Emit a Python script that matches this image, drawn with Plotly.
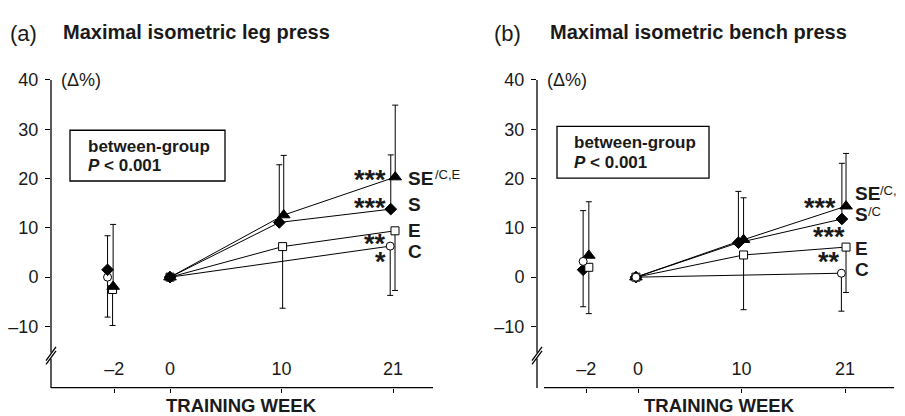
import plotly.graph_objects as go

# ---------------- data ----------------
weeks = [-2, 0, 10, 21]
week_labels = ["–2", "0", "10", "21"]
y_ticks = [-10, 0, 10, 20, 30, 40]
y_tick_labels = ["–10", "0", "10", "20", "30", "40"]
groups = ["S", "SE", "E", "C"]

# (a) maximal isometric leg press, change in % (mean) and SD
leg_S_mean = [1.5, 0.0, 11.1, 13.8]
leg_S_sd = [6.9, 0.0, 11.7, 11.0]
leg_SE_mean = [-1.9, 0.0, 12.6, 20.3]
leg_SE_sd = [12.6, 0.0, 12.1, 14.6]
leg_E_mean = [-2.5, 0.0, 6.2, 9.4]
leg_E_sd = [7.3, 0.0, 12.5, 12.1]
leg_C_mean = [0.0, 0.0, None, 6.3]
leg_C_sd = [8.1, 0.0, None, 10.0]

# (b) maximal isometric bench press
bench_S_mean = [1.5, 0.0, 7.0, 11.8]
bench_S_sd = [12.0, 0.0, 10.4, 11.3]
bench_SE_mean = [4.4, 0.0, 7.6, 14.4]
bench_SE_sd = [10.9, 0.0, 8.5, 10.7]
bench_E_mean = [2.0, 0.0, 4.5, 6.1]
bench_E_sd = [9.4, 0.0, 11.1, 9.2]
bench_C_mean = [3.2, 0.0, None, 0.8]
bench_C_sd = [9.2, 0.0, None, 7.7]

# group labels and significance marks at week 21
leg_labels = {"SE": ("SE", "/C,E"), "S": ("S", ""), "E": ("E", ""), "C": ("C", "")}
leg_stars = {"SE": "***", "S": "***", "E": "**", "C": "*"}
bench_labels = {"SE": ("SE", "/C,E"), "S": ("S", "/C"), "E": ("E", ""), "C": ("C", "")}
bench_stars = {"SE": "***", "S": "***", "E": "**"}

# ---------------- layout helpers (styles / positions) ----------------
PAGE_MARGIN = 8          # default body margin of the html page
W, H = 905, 416
FONT = "Arial, Liberation Sans, Helvetica, sans-serif"
def px(x):
    return (x - PAGE_MARGIN) / W
def py(y):
    return 1 - (y - PAGE_MARGIN) / H

# x position slot of each week on the (non-linear) time axis
slot = {-2: -0.5, 0: 0.0, 10: 1.0, 21: 2.0}

styles = {
    "S": dict(symbol="diamond", size=9, color="black", line=dict(color="black", width=1)),
    "SE": dict(symbol="triangle-up", size=11, color="black", line=dict(color="black", width=1)),
    "E": dict(symbol="square", size=8, color="white", line=dict(color="black", width=1)),
    "C": dict(symbol="circle", size=8, color="white", line=dict(color="black", width=1)),
}
err_dir = {"S": "up", "SE": "up", "E": "down", "C": "down"}

panels = [
    dict(
        name="a", title="Maximal isometric leg press",
        data={"S": (leg_S_mean, leg_S_sd), "SE": (leg_SE_mean, leg_SE_sd),
              "E": (leg_E_mean, leg_E_sd), "C": (leg_C_mean, leg_C_sd)},
        order=["E", "C", "S", "SE"],
        offsets={"S": [-0.06, 0, -0.02, -0.02], "C": [-0.06, 0, -0.02, -0.025],
                 "SE": [-0.01, 0, 0.02, 0.02], "E": [-0.015, 0, 0.01, 0.018]},
        axx=51, xend=433, xstart_line=51, x0=170, unit=111.5,
        labels=leg_labels, stars=leg_stars,
        label_y={"SE": 172, "S": 199.5, "E": 226, "C": 247}, label_x=406,
        sup_x={"SE": 433}, sup_y={"SE": 168},
        star_pos={"SE": (388, 168), "S": (388, 197), "E": (388, 234), "C": (388, 252)},
        box=(70, 123, 225, 175), box_text=(86, 140, 159),
        tag_x=8, title_x=61, delta_x=59, xlabel_x=242,
    ),
    dict(
        name="b", title="Maximal isometric bench press",
        data={"S": (bench_S_mean, bench_S_sd), "SE": (bench_SE_mean, bench_SE_sd),
              "E": (bench_E_mean, bench_E_sd), "C": (bench_C_mean, bench_C_sd)},
        order=["S", "SE", "E", "C"],
        offsets={"S": [-0.03, -0.02, -0.03, -0.03], "C": [-0.03, -0.02, -0.03, -0.035],
                 "SE": [0.025, -0.02, 0.02, 0.01], "E": [0.025, -0.02, 0.02, 0.01]},
        axx=537, xend=894, xstart_line=544, x0=638, unit=103.5,
        labels=bench_labels, stars=bench_stars,
        label_y={"SE": 188, "S": 209, "E": 244, "C": 266}, label_x=853,
        sup_x={"SE": 878, "S": 866}, sup_y={"SE": 185, "S": 206},
        star_pos={"SE": (838, 197), "S": (847, 226), "E": (842, 252)},
        box=(557, 119, 709, 172), box_text=(572, 136, 156),
        tag_x=492, title_x=548, delta_x=545, xlabel_x=719,
    ),
]

Y_TOP_PX, Y_BOT_PX = 71.5, 386.7
Y_RANGE = [-22.4, 40]

fig = go.Figure()
shapes, annotations = [], []

for i, p in enumerate(panels):
    xa = "x" if i == 0 else "x2"
    ya = "y" if i == 0 else "y2"
    # lines first (weeks >= 0), then markers with one-sided SD bars
    for g in p["order"]:
        mean, sd = p["data"][g]
        off = p["offsets"][g]
        lx = [slot[w] + off[k] for k, w in enumerate(weeks) if w >= 0 and mean[k] is not None]
        ly = [mean[k] for k, w in enumerate(weeks) if w >= 0 and mean[k] is not None]
        fig.add_trace(go.Scatter(x=lx, y=ly, mode="lines", xaxis=xa, yaxis=ya,
                                 line=dict(color="black", width=1), showlegend=False,
                                 hoverinfo="skip"))
    for g in p["order"]:
        mean, sd = p["data"][g]
        off = p["offsets"][g]
        idx = [k for k in range(len(weeks)) if mean[k] is not None]
        mx = [slot[weeks[k]] + off[k] for k in idx]
        my = [mean[k] for k in idx]
        ms = [sd[k] for k in idx]
        zeros = [0] * len(ms)
        up = ms if err_dir[g] == "up" else zeros
        down = ms if err_dir[g] == "down" else zeros
        fig.add_trace(go.Scatter(
            x=mx, y=my, mode="markers", xaxis=xa, yaxis=ya, name=g, showlegend=False,
            marker=styles[g],
            error_y=dict(type="data", symmetric=False, array=up, arrayminus=down,
                         color="black", thickness=1, width=3, visible=True),
        ))

    # axes
    xr = [(p["axx"] - p["x0"]) / p["unit"], (p["xend"] - p["x0"]) / p["unit"]]
    xdom = [px(p["axx"]), px(p["xend"])]
    ydom = [py(Y_BOT_PX), py(Y_TOP_PX)]
    xkey = "xaxis" if i == 0 else "xaxis2"
    ykey = "yaxis" if i == 0 else "yaxis2"
    fig.update_layout(**{
        xkey: dict(domain=xdom, range=xr, anchor=ya, showgrid=False, zeroline=False,
                   showline=False, tickmode="array",
                   tickvals=[slot[w] for w in weeks], ticktext=week_labels,
                   ticks="outside", ticklen=4, tickcolor="black",
                   ticklabelposition="inside", ticklabelstandoff=6,
                   tickfont=dict(family=FONT, size=18, color="#1a1a1a")),
        ykey: dict(domain=ydom, range=Y_RANGE, anchor=xa, showgrid=False, zeroline=False,
                   showline=False, tickmode="array", tickvals=y_ticks, ticktext=y_tick_labels,
                   ticks="outside", ticklen=5, tickcolor="black", ticklabelstandoff=3,
                   tickfont=dict(family=FONT, size=18, color="#1a1a1a")),
    })

    X = p["axx"]
    lw = 1.3
    # y axis with break
    shapes += [
        dict(type="line", xref="paper", yref="paper", x0=px(X), x1=px(X), y0=py(Y_TOP_PX), y1=py(351),
             line=dict(color="black", width=lw)),
        dict(type="line", xref="paper", yref="paper", x0=px(X), x1=px(X), y0=py(357), y1=py(387),
             line=dict(color="black", width=lw)),
        dict(type="line", xref="paper", yref="paper", x0=px(X - 5), x1=px(X + 5), y0=py(359), y1=py(345),
             line=dict(color="black", width=lw)),
        dict(type="line", xref="paper", yref="paper", x0=px(X - 5), x1=px(X + 5), y0=py(363), y1=py(349),
             line=dict(color="black", width=lw)),
        # x axis line
        dict(type="line", xref="paper", yref="paper", x0=px(p["xstart_line"]), x1=px(p["xend"]),
             y0=py(Y_BOT_PX), y1=py(Y_BOT_PX), line=dict(color="black", width=lw)),
        # between-group box
        dict(type="rect", xref="paper", yref="paper", x0=px(p["box"][0]), x1=px(p["box"][2]),
             y0=py(p["box"][3]), y1=py(p["box"][1]), line=dict(color="black", width=lw),
             fillcolor="rgba(0,0,0,0)"),
    ]

    def ann(text, x, y, size, xanchor="left", bold=False):
        annotations.append(dict(
            text=f"<b>{text}</b>" if bold else text, x=px(x), y=py(y), xref="paper", yref="paper",
            xanchor=xanchor, yanchor="middle", showarrow=False,
            font=dict(family=FONT, size=size, color="#1a1a1a")))

    ann(f"({p['name']})", p["tag_x"], 24, 22)
    ann(p["title"], p["title_x"], 22, 20, bold=True)
    ann("(Δ%)", p["delta_x"], 72, 18)
    ann("between-group", p["box_text"][0], p["box_text"][1], 17, bold=True)
    ann("<i>P</i> &lt; 0.001", p["box_text"][0], p["box_text"][2], 17, bold=True)
    ann("TRAINING WEEK", p["xlabel_x"], 405.5, 18.5, xanchor="center", bold=True)
    for g, (lab, sup) in p["labels"].items():
        ann(lab, p["label_x"], p["label_y"][g], 19, bold=True)
        if sup:
            ann(sup, p["sup_x"][g], p["sup_y"][g], 13)
    for g, st in p["stars"].items():
        sx, sy = p["star_pos"][g]
        ann(st, sx, sy + 6, 27, xanchor="right", bold=True)

fig.update_layout(
    width=W, height=H, margin=dict(l=0, r=0, t=0, b=0),
    paper_bgcolor="white", plot_bgcolor="white",
    shapes=shapes, annotations=annotations, showlegend=False,
)

fig.write_html("out.html")
